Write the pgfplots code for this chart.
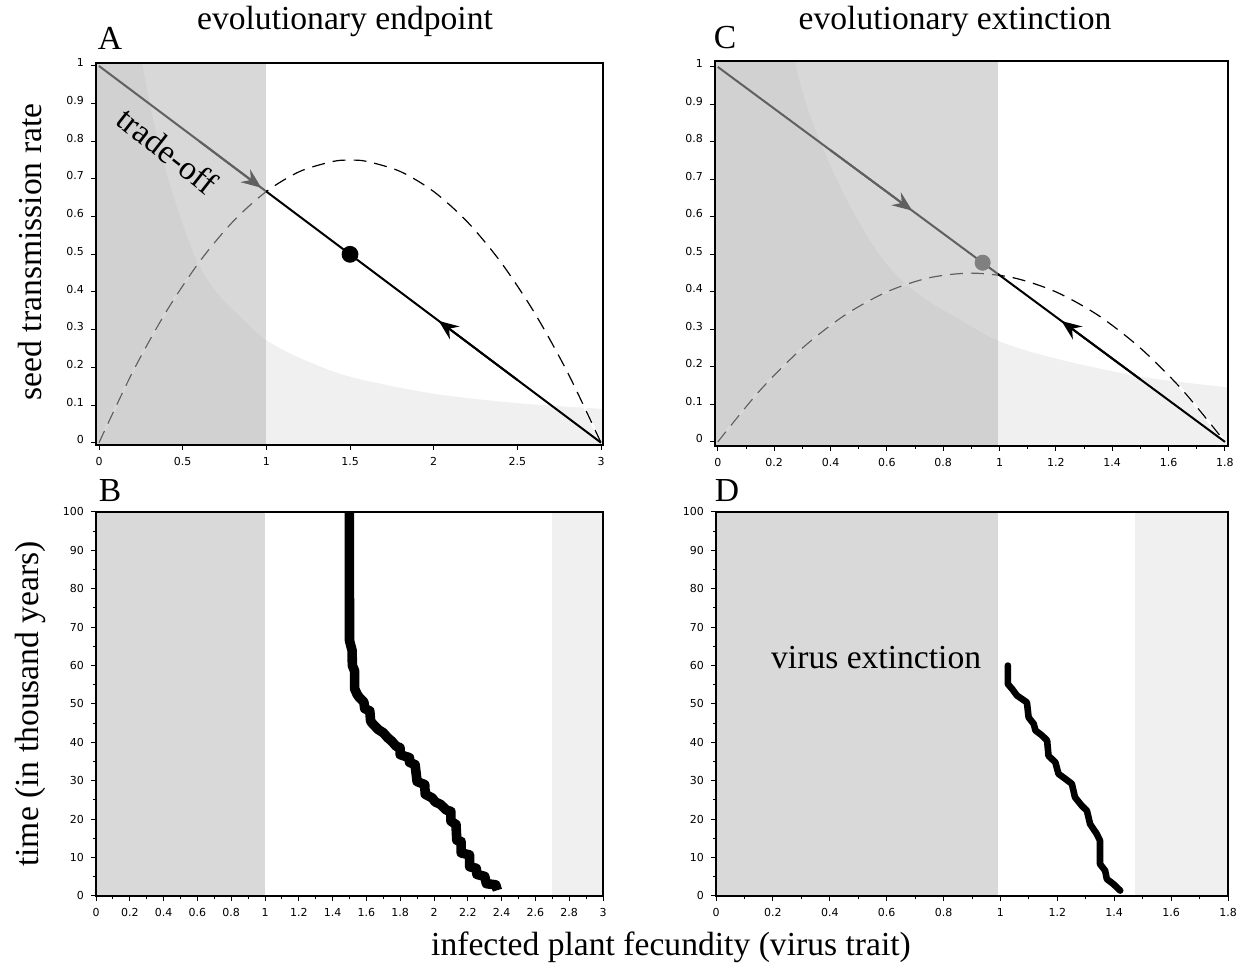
\documentclass[border=0pt]{standalone}
\usepackage{fontspec}
\setmainfont{Liberation Serif}
\newfontfamily\dejavu{DejaVu Sans}
\usepackage{pgfplots}
\pgfplotsset{compat=1.18}
\usetikzlibrary{arrows.meta}

\definecolor{bandgray}{HTML}{D9D9D9}
\definecolor{lightgray2}{HTML}{F0F0F0}
\definecolor{overlay}{gray}{0.715}
\definecolor{dotgray}{HTML}{808080}

\pgfplotsset{
  panel/.style={
    scale only axis, anchor=south west,
    tick align=outside, tick pos=left,
    major tick length=2.5pt, minor tick length=1.5pt,
    tick style={black, line width=0.5pt},
    tick label style={font=\dejavu\fontsize{5.5}{6}\selectfont},
    /pgf/number format/assume math mode=true,
    axis line style={line width=0.6pt},
    axis on top, clip=true, enlargelimits=false,
  },
  arr/.style={-{Stealth[length=10pt,width=8pt,inset=3.5pt]}},
}
\newcommand{\bigtxt}{\fontsize{16.8}{20}\selectfont}

\begin{document}
\begin{tikzpicture}
\path (0,0) rectangle (622.5pt,484.5pt);

% ---- A ----
\begin{axis}[panel, at={(48pt,264pt)}, width=253.5pt, height=191pt,
  xmin=-0.018, xmax=3.012, ymin=-0.006, ymax=1.008,
  xtick={0,0.5,1,1.5,2,2.5,3},
  ytick={0,0.1,0.2,0.3,0.4,0.5,0.6,0.7,0.8,0.9,1},
  yticklabel style={yshift=1.5pt}]
\addplot[draw=none, fill=lightgray2, smooth, tension=0.5] coordinates {
(-0.05,-0.05) (-0.05,1.05) (0.245,1.05) (0.262,1.0) (0.31,0.886) (0.38,0.753) (0.47,0.62)
(0.58,0.487) (0.70,0.40) (0.86,0.327) (1.0,0.272) (1.2,0.225) (1.5,0.175) (2,0.13)
(2.5,0.105) (3,0.09) (3.05,0.089) (3.05,-0.05)} --cycle;
\addplot[white, line width=1.2pt, smooth] coordinates {
(0,0) (0.2,0.1867) (0.4,0.3467) (0.6,0.48) (0.8,0.5867) (1,0.6667) (1.2,0.72) (1.4,0.7467)
(1.5,0.75) (1.6,0.7467) (1.8,0.72) (2,0.6667) (2.2,0.5867) (2.4,0.48) (2.6,0.3467) (2.8,0.1867) (3,0)};
\addplot[black, line width=0.6pt, dash pattern=on 6.5pt off 4pt, smooth] coordinates {
(0,0) (0.2,0.1867) (0.4,0.3467) (0.6,0.48) (0.8,0.5867) (1,0.6667) (1.2,0.72) (1.4,0.7467)
(1.5,0.75) (1.6,0.7467) (1.8,0.72) (2,0.6667) (2.2,0.5867) (2.4,0.48) (2.6,0.3467) (2.8,0.1867) (3,0)};
\addplot[black, line width=1pt] coordinates {(0,1) (3,0)};
\addplot[black, line width=1pt, arr] coordinates {(0.6,0.8) (0.97,0.6767)};
\addplot[black, line width=1pt, arr] coordinates {(2.5,0.16667) (2.03,0.32333)};
\addplot[only marks, mark=*, mark size=4pt, black] coordinates {(1.5,0.5)};
\addplot[draw=none, fill=overlay, fill opacity=0.53] coordinates {(-0.05,-0.05) (1,-0.05) (1,1.05) (-0.05,1.05)} --cycle;
\node[rotate=-38, font=\bigtxt] at (axis cs:0.41,0.775) {trade-off};
\end{axis}

% ---- C ----
\begin{axis}[panel, at={(357.5pt,263.5pt)}, width=256.5pt, height=192.5pt,
  xmin=-0.01, xmax=1.811, ymin=-0.011, ymax=1.016,
  xtick={0,0.2,0.4,0.6,0.8,1,1.2,1.4,1.6,1.8}, minor x tick num=1,
  ytick={0,0.1,0.2,0.3,0.4,0.5,0.6,0.7,0.8,0.9,1},
  yticklabel style={yshift=1.5pt}]
\addplot[draw=none, fill=lightgray2, smooth, tension=0.5] coordinates {
(-0.05,-0.05) (-0.05,1.05) (0.262,1.05) (0.277,1.0) (0.32,0.886) (0.39,0.753) (0.475,0.62)
(0.585,0.487) (0.70,0.40) (0.86,0.325) (1.0,0.268) (1.2,0.222) (1.5,0.174) (1.8,0.146)
(1.85,0.143) (1.85,-0.05)} --cycle;
\addplot[white, line width=1.2pt, smooth] coordinates {
(0,0) (0.15,0.1375) (0.3,0.25) (0.45,0.3375) (0.6,0.4) (0.75,0.4375) (0.9,0.45)
(1.05,0.4375) (1.2,0.4) (1.35,0.3375) (1.5,0.25) (1.65,0.1375) (1.8,0)};
\addplot[black, line width=0.6pt, dash pattern=on 6.5pt off 4pt, smooth] coordinates {
(0,0) (0.15,0.1375) (0.3,0.25) (0.45,0.3375) (0.6,0.4) (0.75,0.4375) (0.9,0.45)
(1.05,0.4375) (1.2,0.4) (1.35,0.3375) (1.5,0.25) (1.65,0.1375) (1.8,0)};
\addplot[black, line width=1pt] coordinates {(0,1) (1.8,0)};
\addplot[black, line width=1pt, arr] coordinates {(0.4,0.7778) (0.69,0.6167)};
\addplot[black, line width=1pt, arr] coordinates {(1.5,0.16667) (1.22,0.32222)};
\addplot[draw=none, fill=overlay, fill opacity=0.53] coordinates {(-0.05,-0.05) (0.995,-0.05) (0.995,1.05) (-0.05,1.05)} --cycle;
\addplot[only marks, mark=*, mark size=3.8pt, dotgray] coordinates {(0.94,0.4778)};
\end{axis}

% ---- B ----
\begin{axis}[panel, at={(48pt,38.5pt)}, width=253.5pt, height=192pt,
  xmin=0, xmax=3, ymin=0, ymax=100,
  xtick={0,0.2,0.4,0.6,0.8,1,1.2,1.4,1.6,1.8,2,2.2,2.4,2.6,2.8,3}, minor x tick num=1,
  ytick={0,10,20,30,40,50,60,70,80,90,100}, minor y tick num=1]
\addplot[draw=none, fill=bandgray] coordinates {(0,0) (1,0) (1,100) (0,100)} --cycle;
\addplot[draw=none, fill=lightgray2] coordinates {(2.7,0) (3,0) (3,100) (2.7,100)} --cycle;
\addplot[black, line width=4.8pt, line join=round] coordinates {
(2.375,1.5) (2.365,2.9) (2.31,3.2) (2.30,5.1) (2.254,5.6) (2.25,7.2) (2.211,7.6) (2.21,10.7)
(2.161,11.2) (2.16,14.2) (2.135,14.5) (2.13,18.6) (2.10,19.5) (2.10,22.0) (2.072,22.4)
(2.04,23.8) (2.007,24.5) (1.99,25.5) (1.948,26.5) (1.945,29.0) (1.90,29.8) (1.888,34.2)
(1.855,34.8) (1.855,36.0) (1.80,36.8) (1.799,38.6) (1.776,39.0) (1.75,40.3) (1.726,41.2)
(1.70,42.5) (1.671,43.3) (1.64,44.7) (1.625,45.5) (1.62,48.2) (1.59,48.8) (1.585,50.5)
(1.558,51.7) (1.545,52.5) (1.53,54) (1.53,58.6) (1.517,60) (1.515,64) (1.50,66.5) (1.499,100.5)};
\end{axis}

% ---- D ----
\begin{axis}[panel, at={(358pt,38.5pt)}, width=256pt, height=192pt,
  xmin=0, xmax=1.8, ymin=0, ymax=100,
  xtick={0,0.2,0.4,0.6,0.8,1,1.2,1.4,1.6,1.8}, minor x tick num=1,
  ytick={0,10,20,30,40,50,60,70,80,90,100}, minor y tick num=1]
\addplot[draw=none, fill=bandgray] coordinates {(0,0) (0.99,0) (0.99,100) (0,100)} --cycle;
\addplot[draw=none, fill=lightgray2] coordinates {(1.473,0) (1.8,0) (1.8,100) (1.473,100)} --cycle;
\addplot[black, line width=3.3pt, line join=round, line cap=round] coordinates {
(1.421,1.4) (1.397,3.1) (1.374,4.4) (1.368,6.6) (1.350,8.3) (1.350,14.4) (1.339,16.1)
(1.315,18.75) (1.304,22.2) (1.286,23.5) (1.262,25.7) (1.251,29.2) (1.228,30.5) (1.204,31.8)
(1.193,34.8) (1.169,36.5) (1.164,40.5) (1.146,41.8) (1.123,43.1) (1.117,44.8) (1.099,46.5)
(1.093,50.4) (1.058,52.2) (1.041,53.9) (1.026,55.2) (1.026,60.0)};
\node[font=\bigtxt] at (axis cs:0.563,62) {virus extinction};
\end{axis}

% ---- labels ----
\node[font=\bigtxt] at (172.5pt,475.5pt) {evolutionary endpoint};
\node[font=\bigtxt] at (477.5pt,475.5pt) {evolutionary extinction};
\node[font=\bigtxt] at (55pt,467.5pt) {A};
\node[font=\bigtxt] at (362.5pt,467.5pt) {C};
\node[font=\bigtxt] at (55pt,241pt) {B};
\node[font=\bigtxt] at (363.5pt,241pt) {D};
\node[font=\bigtxt, rotate=90] at (15pt,360.5pt) {seed transmission rate};
\node[font=\bigtxt, rotate=90] at (15pt,134.5pt) {time (in thousand years)};
\node[font=\bigtxt] at (335.5pt,13pt) {infected plant fecundity (virus trait)};
\end{tikzpicture}
\end{document}
